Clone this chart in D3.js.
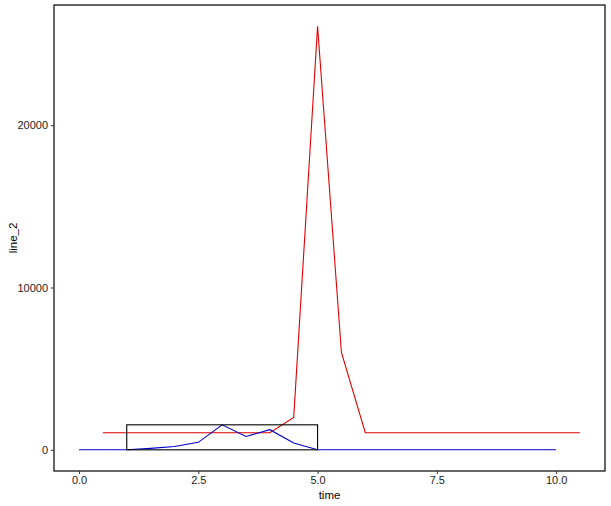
<!DOCTYPE html>
<html>
<head>
<meta charset="utf-8">
<script src="https://cdn.jsdelivr.net/npm/d3@7"></script>
<style>
body{margin:0;background:#fff;}
.axis text{font-family:"Liberation Sans",Arial,sans-serif;font-size:11px;fill:#222;}
.axis line{stroke:#333;}
.axis path{display:none;}
.title{font-family:"Liberation Sans",Arial,sans-serif;font-size:11.5px;fill:#000;}
</style>
</head>
<body>
<div class="chart"></div>
<script>
// red series (line_2)
var redTime=[0.5,1.0,1.5,2.0,2.5,3.0,3.5,4.0,4.5,5.0,5.5,6.0,6.5,7.0,7.5,8.0,8.5,9.0,9.5,10.0,10.5];
var redVal=[1050,1050,1050,1050,1050,1050,1050,1050,2000,26100,6000,1050,1050,1050,1050,1050,1050,1050,1050,1050,1050];
// blue series
var blueTime=[0,0.5,1.0,1.5,2.0,2.5,3.0,3.5,4.0,4.5,5.0,5.5,6.0,6.5,7.0,7.5,8.0,8.5,9.0,9.5,10.0];
var blueVal=[0,0,0,90,200,460,1540,820,1240,420,0,0,0,0,0,0,0,0,0,0,0];
// box
var boxX=[1,5];
var boxY=[0,1540];
var xTicks=[0,2.5,5,7.5,10];
var yTicks=[0,10000,20000];

var W=611,H=506;
var margin={top:5,right:6,bottom:35,left:54};
var width=W-margin.left-margin.right,
    height=H-margin.top-margin.bottom;

var red=redTime.map(function(t,i){return {t:t,v:redVal[i]};});
var blue=blueTime.map(function(t,i){return {t:t,v:blueVal[i]};});

var xmin=d3.min(blueTime.concat(redTime)), xmax=d3.max(blueTime.concat(redTime));
var ymin=d3.min(blueVal.concat(redVal)), ymax=d3.max(blueVal.concat(redVal));
var xe=(xmax-xmin)*0.05, ye=(ymax-ymin)*0.05;

var x=d3.scaleLinear().domain([xmin-xe,xmax+xe]).range([0,width]);
var y=d3.scaleLinear().domain([ymin-ye,ymax+ye]).range([height,0]);

var svg=d3.select(".chart").append("svg")
  .attr("width",W)
  .attr("height",H);
var g=svg.append("g")
  .attr("transform","translate("+margin.left+","+margin.top+")");

var line=d3.line()
  .x(function(d){return x(d.t);})
  .y(function(d){return y(d.v);});

g.append("path").datum(red)
  .attr("d",line).attr("fill","none").attr("stroke","#e00000").attr("stroke-width",1.1);
g.append("path").datum(blue)
  .attr("d",line).attr("fill","none").attr("stroke","#0000cc").attr("stroke-width",1.1);

g.append("rect")
  .attr("x",x(boxX[0])).attr("y",y(boxY[1]))
  .attr("width",x(boxX[1])-x(boxX[0]))
  .attr("height",y(boxY[0])-y(boxY[1]))
  .attr("fill","none").attr("stroke","#000").attr("stroke-width",1.1);

// panel border
g.append("rect")
  .attr("width",width).attr("height",height)
  .attr("fill","none").attr("stroke","#000").attr("stroke-width",1.2);

g.append("g").attr("class","axis")
  .attr("transform","translate(0,"+height+")")
  .call(d3.axisBottom(x).tickValues(xTicks).tickFormat(d3.format(".1f")).tickSize(3).tickPadding(2));

g.append("g").attr("class","axis")
  .call(d3.axisLeft(y).tickValues(yTicks).tickFormat(d3.format("d")).tickSize(3).tickPadding(3));

svg.append("text").attr("class","title")
  .attr("x",margin.left+width/2).attr("y",H-7)
  .attr("text-anchor","middle").text("time");

svg.append("text").attr("class","title")
  .attr("transform","translate(17,"+(margin.top+height/2)+") rotate(-90)")
  .attr("text-anchor","middle").text("line_2");
</script>
</body>
</html>
